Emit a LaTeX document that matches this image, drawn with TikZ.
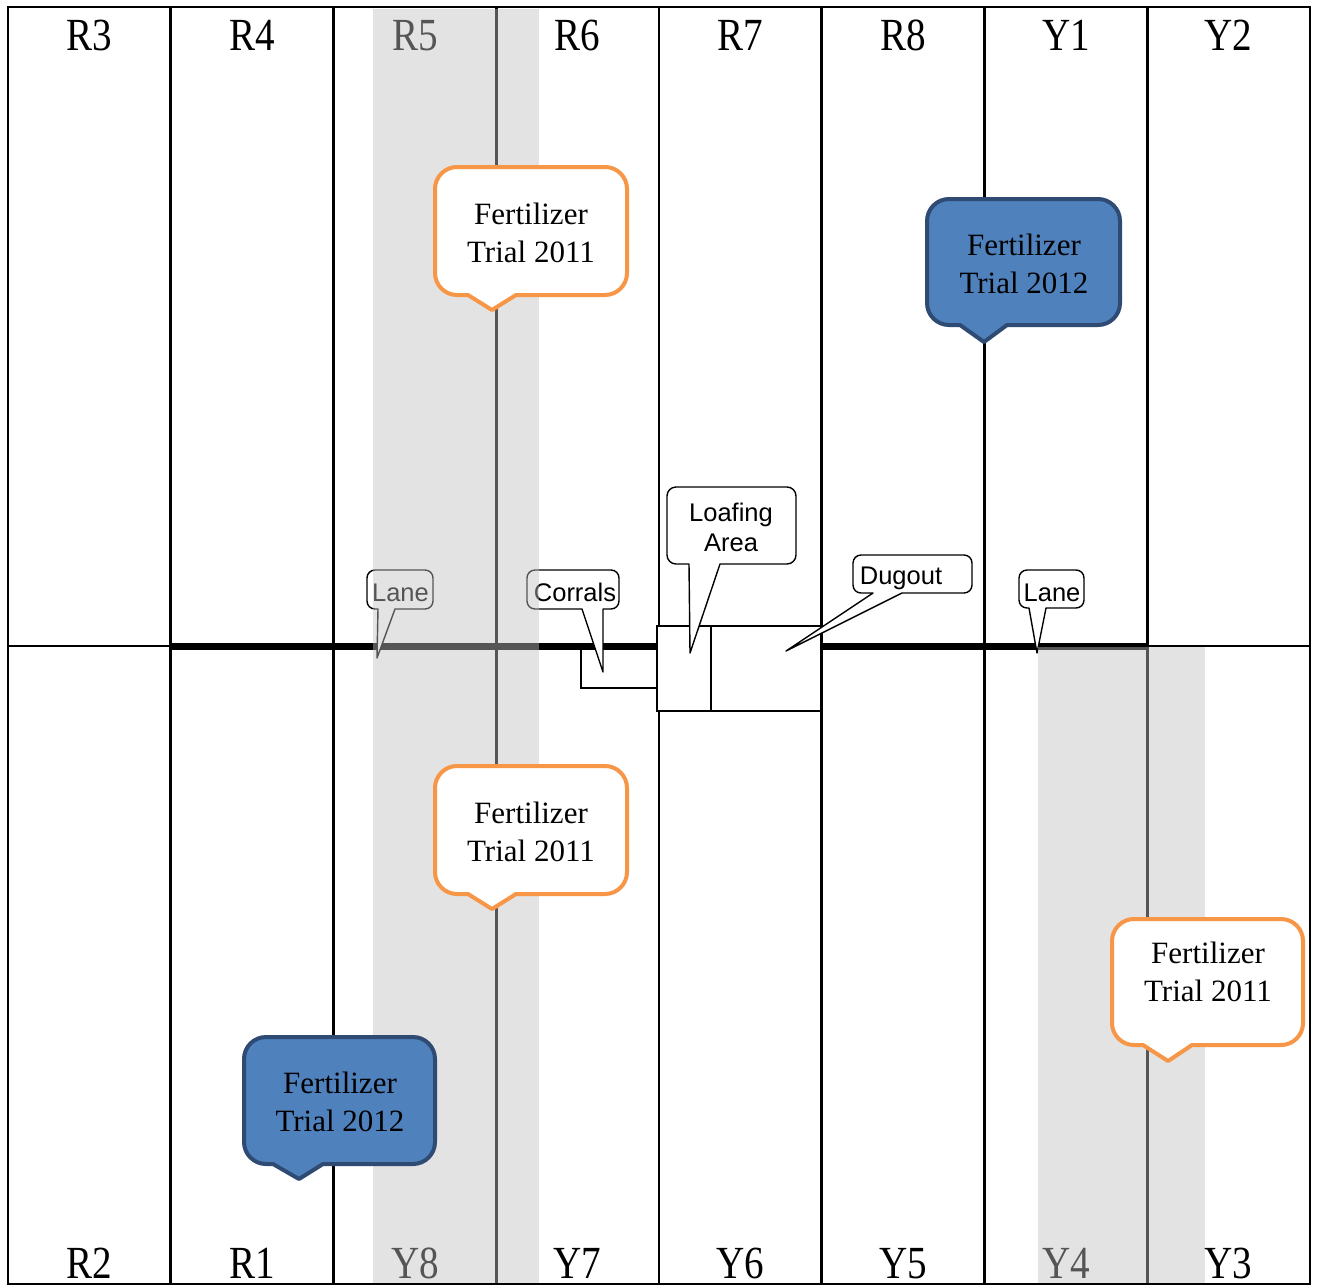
\documentclass[tikz,border=0pt]{standalone}
\usepackage{fontspec}
\setmainfont{Liberation Serif}
\setsansfont{Liberation Sans}
\newfontfamily\plotfont[FakeStretch=0.85]{Liberation Serif}

\definecolor{trialorange}{HTML}{F79646}
\definecolor{trialblue}{HTML}{4F81BD}
\definecolor{trialbluedark}{HTML}{2F4B73}
\definecolor{lanegrey}{RGB}{192,192,192}

% Speech bubble: #1 style, #2 left, #3 top, #4 right, #5 bottom (pixel rows, downward),
% #6 corner radius, #7/#8 pointer base left/right, #9 name of the pointer tip
\newcommand\bubble[9]{%
  \path[#1] ({#2+#6},{-#3}) -- ({#4-#6},{-#3})
    arc[start angle=90,end angle=0,radius=#6]
    -- (#4,{-#5+#6})
    arc[start angle=0,end angle=-90,radius=#6]
    -- (#8,{-#5}) -- (#9) -- (#7,{-#5})
    -- ({#2+#6},{-#5})
    arc[start angle=270,end angle=180,radius=#6]
    -- (#2,{-#3-#6})
    arc[start angle=180,end angle=90,radius=#6]
    -- cycle;}

\tikzset{
  gridline/.style={line width=2.6pt, black},
  laneline/.style={line width=7pt, black},
  planline/.style={line width=1.4pt, black},
  tag/.style={draw=black, fill=white, line width=1.4pt, line join=round},
  trialA/.style={draw=trialorange, fill=white, line width=4pt, line join=round},
  trialB/.style={draw=trialbluedark, fill=trialblue, line width=4pt, line join=round},
  plot/.style={font=\plotfont\fontsize{46}{46}\selectfont, anchor=base, inner sep=0pt},
  trialtext/.style={font=\fontsize{31}{38}\selectfont, align=center, inner sep=0pt},
  tagtext/.style={font=\sffamily\fontsize{25.5}{30}\selectfont, align=center, inner sep=0pt},
  band/.style={fill=lanegrey, fill opacity=0.443}
}

\begin{document}
\begin{tikzpicture}[x=1pt,y=1pt]
  \fill[white] (0,0) rectangle (1317,-1286);
  \useasboundingbox (0,0) rectangle (1317,-1286);

  % paddock boundaries
  \foreach \k in {1,...,7}
    \draw[gridline] ({8+162.75*\k},-7) -- ({8+162.75*\k},-1284);
  \draw[gridline] (8,-646) -- (1310,-646);
  \draw[laneline] (171,-646) -- (1147,-646);
  \draw[gridline] (8,-7) rectangle (1310,-1284);

  % paddock names
  \node[plot] (r3) at (89.4,-50) {R3};
  \node[plot] (r4) at (252.1,-50) {R4};
  \node[plot] (r5) at (414.9,-50) {R5};
  \node[plot] (r6) at (577.6,-50) {R6};
  \node[plot] (r7) at (740.4,-50) {R7};
  \node[plot] (r8) at (903.1,-50) {R8};
  \node[plot] (y1) at (1065.9,-50) {Y1};
  \node[plot] (y2) at (1228.6,-50) {Y2};
  \node[plot] (r2) at (89.4,-1278) {R2};
  \node[plot] (r1) at (252.1,-1278) {R1};
  \node[plot] (y8) at (414.9,-1278) {Y8};
  \node[plot] (y7) at (577.6,-1278) {Y7};
  \node[plot] (y6) at (740.4,-1278) {Y6};
  \node[plot] (y5) at (903.1,-1278) {Y5};
  \node[plot] (y4) at (1065.9,-1278) {Y4};
  \node[plot] (y3) at (1228.6,-1278) {Y3};

  % yards and buildings
  \draw[planline] (581,-647) rectangle (658,-688);
  \draw[planline, fill=white] (657,-626) rectangle (821,-711);
  \draw[planline] (711,-626) -- (711,-712);

  % small labels
  \coordinate (laneLtip) at (377,-658);
  \coordinate (corraltip) at (603,-672);
  \coordinate (loaftip) at (690,-653);
  \coordinate (dugtip) at (786,-651);
  \coordinate (laneRtip) at (1037,-653);
  \bubble{tag}{367}{570}{433}{609}{8}{378}{395}{laneLtip}
  \bubble{tag}{527}{570}{619}{609}{8}{582}{603}{corraltip}
  \bubble{tag}{667}{487}{796}{564}{9}{689}{720}{loaftip}
  \bubble{tag}{853}{555}{972}{593}{8}{873}{902}{dugtip}
  \bubble{tag}{1019}{570}{1084}{608}{8}{1029}{1046}{laneRtip}
  \node[tagtext, anchor=base] (laneL) at (400.5,-601) {Lane};
  \node[tagtext, anchor=base] (corrals) at (575,-601) {Corrals};
  \node[tagtext] (loafing) at (731,-527) {Loafing\\Area};
  \node[tagtext, anchor=base] (dugout) at (901,-584) {Dugout};
  \node[tagtext, anchor=base] (laneR) at (1052,-601) {Lane};

  % lanes
  \path[band] (373,-9) rectangle (539,-1283);
  \path[band] (1038,-647) rectangle (1205,-1283);

  % fertilizer trials
  \coordinate (ta) at (492,-310);
  \coordinate (tb) at (492,-909);
  \coordinate (tc) at (1168,-1061);
  \coordinate (td) at (984,-342);
  \coordinate (te) at (299,-1179);
  \bubble{trialA}{435}{167}{627}{295}{22}{468}{516}{ta}
  \bubble{trialA}{435}{766}{627}{894}{22}{468}{516}{tb}
  \bubble{trialA}{1112}{919}{1303}{1045}{22}{1143}{1192}{tc}
  \bubble{trialB}{927}{199}{1120}{325}{22}{960}{1007}{td}
  \bubble{trialB}{244}{1037}{435}{1164}{22}{273}{323}{te}
  \node[trialtext] (fa) at (531,-233) {Fertilizer\\Trial 2011};
  \node[trialtext] (fb) at (531,-832) {Fertilizer\\Trial 2011};
  \node[trialtext] (fc) at (1208,-972) {Fertilizer\\Trial 2011};
  \node[trialtext] (fd) at (1024,-264) {Fertilizer\\Trial 2012};
  \node[trialtext] (fe) at (340,-1102) {Fertilizer\\Trial 2012};
\end{tikzpicture}
\end{document}
